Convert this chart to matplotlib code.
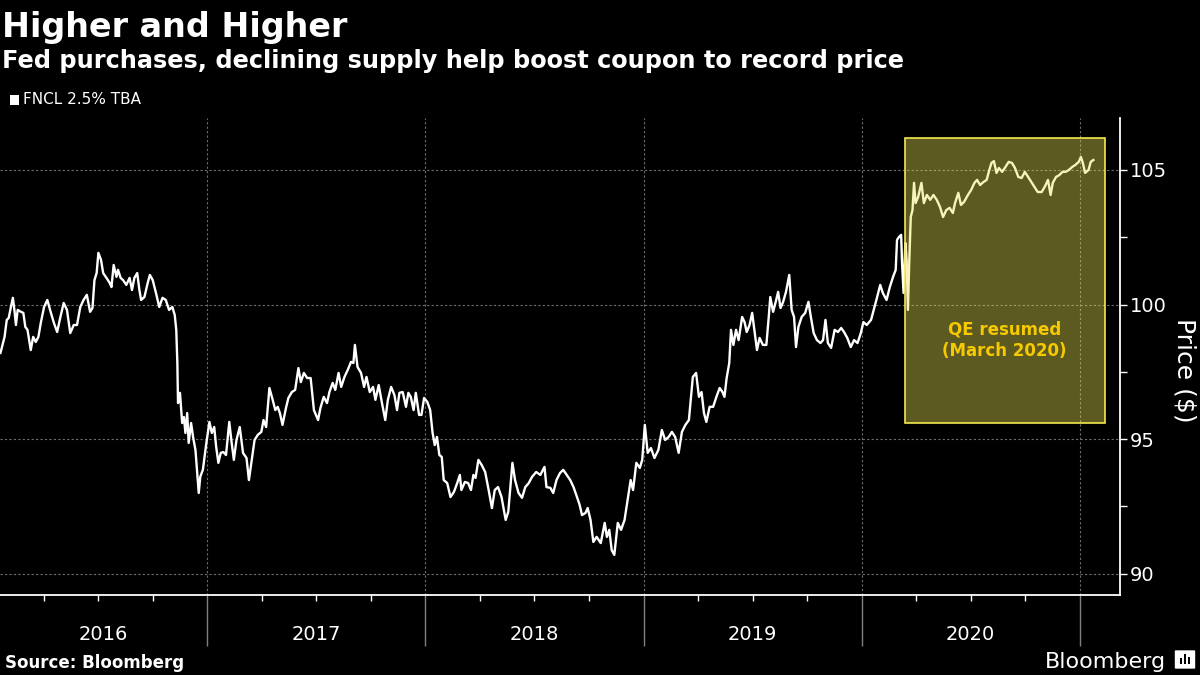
import matplotlib
matplotlib.use('Agg')
import matplotlib.pyplot as plt
import matplotlib.transforms as mtransforms
from matplotlib.patches import Rectangle, FancyBboxPatch
from matplotlib.ticker import FixedLocator, MultipleLocator

# FNCL 2.5% TBA price (x = decimal year)
dates = [
    2016.052, 2016.071, 2016.081, 2016.090, 2016.100, 2016.109, 2016.116, 2016.123, 2016.131, 2016.146,
    2016.157, 2016.166, 2016.176, 2016.191, 2016.202, 2016.214, 2016.226, 2016.237, 2016.252, 2016.267,
    2016.282, 2016.297, 2016.312, 2016.327, 2016.342, 2016.357, 2016.372, 2016.388, 2016.403, 2016.418,
    2016.433, 2016.448, 2016.463, 2016.474, 2016.483, 2016.493, 2016.501, 2016.513, 2016.523, 2016.538,
    2016.553, 2016.561, 2016.571, 2016.584, 2016.591, 2016.603, 2016.614, 2016.629, 2016.644, 2016.655,
    2016.666, 2016.679, 2016.689, 2016.697, 2016.712, 2016.727, 2016.737, 2016.750, 2016.765, 2016.780,
    2016.795, 2016.810, 2016.825, 2016.840, 2016.851, 2016.858, 2016.863, 2016.866, 2016.875, 2016.885,
    2016.893, 2016.900, 2016.908, 2016.915, 2016.926, 2016.935, 2016.946, 2016.953, 2016.961, 2016.968,
    2016.980, 2016.995,
    2017.010, 2017.021, 2017.032, 2017.041, 2017.051, 2017.062, 2017.074, 2017.086, 2017.101, 2017.112,
    2017.122, 2017.134, 2017.149, 2017.164, 2017.180, 2017.191, 2017.202, 2017.217, 2017.232, 2017.248,
    2017.258, 2017.270, 2017.285, 2017.300, 2017.312, 2017.323, 2017.333, 2017.345, 2017.361, 2017.372,
    2017.388, 2017.403, 2017.418, 2017.429, 2017.443, 2017.458, 2017.474, 2017.489, 2017.508, 2017.519,
    2017.534, 2017.549, 2017.560, 2017.575, 2017.587, 2017.602, 2017.614, 2017.629, 2017.644, 2017.659,
    2017.670, 2017.677, 2017.689, 2017.705, 2017.719, 2017.730, 2017.745, 2017.760, 2017.771, 2017.786,
    2017.801, 2017.816, 2017.828, 2017.843, 2017.858, 2017.870, 2017.881, 2017.896, 2017.911, 2017.922,
    2017.933, 2017.946, 2017.956, 2017.971, 2017.982, 2017.994,
    2018.009, 2018.022, 2018.033, 2018.043, 2018.053, 2018.064, 2018.075, 2018.084, 2018.100, 2018.115,
    2018.131, 2018.146, 2018.158, 2018.165, 2018.181, 2018.196, 2018.209, 2018.220, 2018.230, 2018.243,
    2018.258, 2018.274, 2018.290, 2018.305, 2018.318, 2018.333, 2018.349, 2018.368, 2018.380, 2018.399,
    2018.411, 2018.427, 2018.443, 2018.458, 2018.474, 2018.489, 2018.508, 2018.527, 2018.546, 2018.555,
    2018.573, 2018.586, 2018.601, 2018.617, 2018.632, 2018.648, 2018.664, 2018.679, 2018.695, 2018.707,
    2018.718, 2018.734, 2018.744, 2018.757, 2018.770, 2018.785, 2018.804, 2018.822, 2018.832, 2018.843,
    2018.854, 2018.866, 2018.882, 2018.897, 2018.913, 2018.925, 2018.941, 2018.952, 2018.967, 2018.983,
    2018.994,
    2019.006, 2019.019, 2019.034, 2019.050, 2019.068, 2019.084, 2019.099, 2019.115, 2019.130, 2019.145,
    2019.161, 2019.176, 2019.192, 2019.208, 2019.215, 2019.226, 2019.241, 2019.254, 2019.266, 2019.277,
    2019.288, 2019.303, 2019.319, 2019.334, 2019.349, 2019.362, 2019.371, 2019.381, 2019.393, 2019.401,
    2019.412, 2019.424, 2019.436, 2019.452, 2019.463, 2019.473, 2019.486, 2019.498, 2019.510, 2019.520,
    2019.532, 2019.547, 2019.563, 2019.574, 2019.581, 2019.594, 2019.606, 2019.617, 2019.628, 2019.640,
    2019.653, 2019.668, 2019.679, 2019.690, 2019.699, 2019.710, 2019.725, 2019.741, 2019.756, 2019.767,
    2019.780, 2019.795, 2019.811, 2019.823, 2019.834, 2019.845, 2019.860, 2019.876, 2019.891, 2019.906,
    2019.919, 2019.934, 2019.950, 2019.965, 2019.981, 2019.996,
    2020.008, 2020.023, 2020.043, 2020.059, 2020.070, 2020.085, 2020.097, 2020.114, 2020.129, 2020.144,
    2020.156, 2020.162, 2020.171, 2020.181, 2020.185, 2020.192, 2020.200, 2020.206, 2020.212, 2020.218,
    2020.225, 2020.233, 2020.240, 2020.247, 2020.259, 2020.274, 2020.285, 2020.299, 2020.314, 2020.329,
    2020.344, 2020.359, 2020.373, 2020.388, 2020.403, 2020.418, 2020.428, 2020.443, 2020.455, 2020.469,
    2020.487, 2020.502, 2020.517, 2020.529, 2020.543, 2020.558, 2020.573, 2020.585, 2020.595, 2020.606,
    2020.618, 2020.629, 2020.644, 2020.659, 2020.674, 2020.689, 2020.703, 2020.718, 2020.733, 2020.748,
    2020.763, 2020.778, 2020.792, 2020.807, 2020.825, 2020.839, 2020.854, 2020.866, 2020.876, 2020.891,
    2020.906, 2020.921, 2020.935, 2020.950, 2020.965, 2020.980, 2020.995,
    2021.005, 2021.014, 2021.024, 2021.040, 2021.050, 2021.062,
]
prices = [
    98.20, 98.80, 99.43, 99.50, 99.91, 100.25, 99.80, 99.24, 99.80, 99.73,
    99.69, 99.17, 99.06, 98.31, 98.80, 98.61, 98.80, 99.32, 99.91, 100.17,
    99.73, 99.32, 98.98, 99.54, 100.06, 99.80, 98.94, 99.24, 99.24, 99.91,
    100.17, 100.36, 99.73, 99.87, 100.91, 101.17, 101.92, 101.66, 101.17, 100.99,
    100.80, 100.65, 101.47, 101.03, 101.29, 100.99, 100.91, 100.73, 100.99, 100.54,
    100.99, 101.17, 100.54, 100.17, 100.28, 100.80, 101.10, 100.91, 100.43, 99.91,
    100.25, 100.17, 99.80, 99.91, 99.61, 99.06, 97.83, 96.34, 96.72, 95.60,
    95.82, 95.23, 95.97, 94.86, 95.60, 95.08, 94.60, 93.86, 93.00, 93.60,
    93.86, 94.80,
    95.64, 95.23, 95.45, 94.71, 94.12, 94.49, 94.52, 94.41, 95.64, 94.86,
    94.23, 94.97, 95.45, 94.49, 94.30, 93.48, 94.12, 94.97, 95.16, 95.27,
    95.71, 95.45, 96.90, 96.46, 96.08, 96.20, 95.97, 95.53, 96.16, 96.53,
    96.75, 96.83, 97.64, 97.12, 97.46, 97.27, 97.27, 96.08, 95.71, 96.16,
    96.57, 96.34, 96.75, 97.09, 96.83, 97.46, 96.94, 97.31, 97.57, 97.87,
    97.83, 98.50, 97.68, 97.46, 96.94, 97.31, 96.75, 96.94, 96.46, 97.01,
    96.34, 95.71, 96.46, 96.94, 96.64, 96.08, 96.72, 96.75, 96.20, 96.72,
    96.57, 96.08, 96.72, 95.90, 95.90, 96.53,
    96.38, 96.08, 95.23, 94.78, 95.08, 94.41, 94.34, 93.48, 93.37, 92.85,
    93.04, 93.37, 93.67, 93.11, 93.41, 93.37, 93.11, 93.67, 93.56, 94.23,
    94.04, 93.78, 93.11, 92.44, 93.11, 93.22, 92.85, 92.00, 92.30, 94.12,
    93.48, 93.00, 92.82, 93.22, 93.37, 93.60, 93.78, 93.67, 93.97, 93.22,
    93.19, 93.00, 93.48, 93.74, 93.86, 93.67, 93.48, 93.22, 92.85, 92.56,
    92.18, 92.26, 92.44, 92.00, 91.18, 91.37, 91.14, 91.89, 91.37, 91.63,
    90.88, 90.70, 91.89, 91.63, 92.00, 92.63, 93.48, 93.11, 94.12, 93.93,
    94.23,
    95.53, 94.49, 94.67, 94.30, 94.60, 95.34, 94.97, 95.08, 95.27, 95.08,
    94.49, 95.27, 95.53, 95.71, 96.34, 97.31, 97.46, 96.57, 96.75, 95.97,
    95.64, 96.20, 96.20, 96.57, 96.90, 96.75, 96.57, 97.27, 97.83, 99.06,
    98.50, 99.06, 98.68, 99.54, 99.35, 98.98, 99.24, 99.69, 98.94, 98.31,
    98.76, 98.50, 98.50, 99.54, 100.28, 99.73, 100.10, 100.47, 99.87, 100.10,
    100.47, 101.10, 99.80, 99.54, 98.42, 99.17, 99.54, 99.69, 100.10, 99.54,
    98.94, 98.68, 98.57, 98.68, 99.43, 98.57, 98.39, 99.06, 98.98, 99.13,
    98.98, 98.76, 98.42, 98.68, 98.57, 98.94,
    99.35, 99.24, 99.43, 99.91, 100.25, 100.73, 100.43, 100.17, 100.65, 101.03,
    101.29, 102.40, 102.51, 102.59, 101.55, 100.43, 102.29, 101.66, 99.80, 101.55,
    103.25, 103.51, 104.52, 103.77, 104.00, 104.52, 103.77, 104.07, 103.89, 104.07,
    103.89, 103.63, 103.25, 103.51, 103.59, 103.40, 103.77, 104.15, 103.70, 103.81,
    104.07, 104.26, 104.52, 104.63, 104.44, 104.55, 104.63, 105.00, 105.26, 105.33,
    104.89, 105.07, 104.93, 105.11, 105.30, 105.26, 105.07, 104.74, 104.70, 104.93,
    104.74, 104.55, 104.37, 104.18, 104.18, 104.37, 104.63, 104.07, 104.52, 104.74,
    104.81, 104.93, 104.93, 105.00, 105.11, 105.19, 105.30,
    105.48, 105.26, 104.89, 105.00, 105.30, 105.37,
]

years = [2016, 2017, 2018, 2019, 2020]
price_ticks = [90, 95, 100, 105]

# QE shaded window
qe_start, qe_end = 2020.197, 2021.114
qe_low, qe_high = 95.60, 106.19

x_min, x_max = 2016.050, 2021.184
y_min, y_max = 89.21, 106.93

fig = plt.figure(figsize=(12, 6.75), dpi=100, facecolor='black')
ax = fig.add_axes([0.0, 0.1185, 0.9333, 0.7067])
ax.set_facecolor('black')

ax.plot(dates, prices, color='white', lw=1.7, zorder=3, solid_joinstyle='round')

ax.add_patch(Rectangle((qe_start, qe_low), qe_end - qe_start, qe_high - qe_low,
                       facecolor=(0.92, 0.89, 0.33, 0.40), edgecolor='#f4e94e',
                       lw=1.2, zorder=4))
ax.text((qe_start + qe_end) / 2, 98.68, 'QE resumed\n(March 2020)', color='#f6c900',
        ha='center', va='center', fontsize=12, fontweight='bold', linespacing=1.25, zorder=5)

ax.set_xlim(x_min, x_max)
ax.set_ylim(y_min, y_max)

# x axis: year separators + quarter ticks
ax.xaxis.set_major_locator(FixedLocator(list(range(2016, 2022))))
quarters = [y + q / 4 for y in range(2016, 2022) for q in (1, 2, 3)]
ax.xaxis.set_minor_locator(FixedLocator(quarters))
ax.tick_params(axis='x', which='major', length=37, width=1, color='#808080', labelbottom=False)
ax.tick_params(axis='x', which='minor', length=4, width=1, color='white')

# y axis on the right
ax.yaxis.tick_right()
ax.set_yticks(price_ticks)
ax.yaxis.set_minor_locator(MultipleLocator(2.5))
ax.tick_params(axis='y', which='both', length=5, width=1, color='white',
               labelcolor='white', labelsize=14, pad=2)

ax.grid(which='major', color='#6e6e6e', linestyle=(0, (2, 2)), lw=0.8)
ax.set_axisbelow(True)

for s in ['top', 'left']:
    ax.spines[s].set_visible(False)
for s in ['bottom', 'right']:
    ax.spines[s].set_color('white')
    ax.spines[s].set_linewidth(1.3)

trans = mtransforms.blended_transform_factory(ax.transData, ax.transAxes)
for yr in years:
    mid = (max(yr, x_min) + min(yr + 1, x_max)) / 2
    ax.text(mid, -0.082, str(yr), transform=trans, ha='center', va='center',
            color='white', fontsize=14)

fig.text(1185 / 1200, 0.452, 'Price ($)', rotation=270, ha='center', va='center',
         color='white', fontsize=18)

# titles
fig.text(0.002, 1 - 37 / 675, 'Higher and Higher', color='white', fontsize=24,
         fontweight='bold', va='baseline', ha='left')
fig.text(0.002, 1 - 68 / 675, 'Fed purchases, declining supply help boost coupon to record price',
         color='white', fontsize=17.3, fontweight='bold', va='baseline', ha='left')

# legend
fig.add_artist(Rectangle((10 / 1200, 1 - 105 / 675), 9 / 1200, 10 / 675,
                         transform=fig.transFigure, facecolor='white', edgecolor='none'))
fig.text(23 / 1200, 1 - 100 / 675, 'FNCL 2.5% TBA', color='white', fontsize=11,
         va='center', ha='left')

# footer
fig.text(5 / 1200, 1 - 668 / 675, 'Source: Bloomberg', color='white', fontsize=12,
         fontweight='bold', va='baseline', ha='left')
fig.text(1166 / 1200, 1 - 668 / 675, 'Bloomberg', color='white', fontsize=16,
         va='baseline', ha='right')
fig.add_artist(FancyBboxPatch((1176 / 1200, 1 - 668 / 675), 18 / 1200, 17 / 675,
                              boxstyle='round,pad=0.001', transform=fig.transFigure,
                              facecolor='white', edgecolor='none'))
for i, h in enumerate([6, 10, 7]):
    fig.add_artist(Rectangle(((1180 + i * 4) / 1200, 1 - 664 / 675), 2 / 1200, h / 675,
                             transform=fig.transFigure, facecolor='black', edgecolor='none'))

fig.savefig('out.png', dpi=100, facecolor='black')
